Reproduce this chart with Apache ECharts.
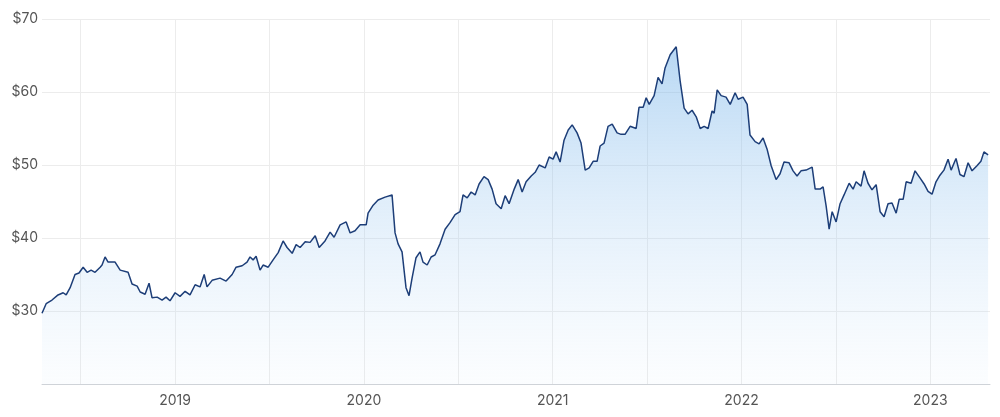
<!DOCTYPE html>
<html lang="en">
<head>
<meta charset="UTF-8" />
<script src="https://cdn.jsdelivr.net/npm/echarts@6/dist/echarts.min.js"></script>
<style>
  html, body { margin: 0; padding: 0; background: #fff; }
  #chart { width: 1000px; height: 417px; }
</style>
</head>
<body>
<div id="chart"></div>
<script>
// dates as decimal years, prices in dollars
const dates = [2018.295,2018.317,2018.348,2018.380,2018.407,2018.423,2018.444,2018.470,2018.491,2018.513,2018.534,2018.555,2018.576,2018.603,2018.613,2018.629,2018.645,2018.682,2018.709,2018.751,2018.772,2018.799,2018.815,2018.841,2018.862,2018.878,2018.905,2018.931,2018.952,2018.973,2019.000,2019.026,2019.053,2019.079,2019.106,2019.132,2019.154,2019.169,2019.196,2019.238,2019.270,2019.302,2019.323,2019.355,2019.381,2019.397,2019.413,2019.429,2019.450,2019.466,2019.493,2019.519,2019.546,2019.572,2019.593,2019.620,2019.641,2019.662,2019.689,2019.715,2019.742,2019.763,2019.794,2019.821,2019.842,2019.874,2019.906,2019.927,2019.953,2019.980,2020.012,2020.022,2020.049,2020.075,2020.112,2020.149,2020.165,2020.181,2020.202,2020.223,2020.239,2020.255,2020.276,2020.297,2020.313,2020.335,2020.356,2020.377,2020.403,2020.430,2020.456,2020.483,2020.509,2020.525,2020.547,2020.568,2020.589,2020.610,2020.636,2020.658,2020.679,2020.700,2020.727,2020.748,2020.769,2020.796,2020.817,2020.838,2020.859,2020.886,2020.907,2020.928,2020.960,2020.981,2021.002,2021.018,2021.039,2021.060,2021.082,2021.103,2021.129,2021.150,2021.172,2021.193,2021.214,2021.235,2021.251,2021.272,2021.293,2021.315,2021.341,2021.362,2021.383,2021.410,2021.442,2021.457,2021.479,2021.495,2021.511,2021.537,2021.558,2021.579,2021.595,2021.622,2021.654,2021.675,2021.696,2021.717,2021.738,2021.760,2021.781,2021.802,2021.823,2021.844,2021.855,2021.871,2021.892,2021.918,2021.940,2021.966,2021.982,2022.008,2022.030,2022.045,2022.072,2022.093,2022.114,2022.135,2022.157,2022.183,2022.204,2022.225,2022.252,2022.273,2022.294,2022.315,2022.342,2022.374,2022.390,2022.416,2022.432,2022.448,2022.464,2022.480,2022.501,2022.522,2022.543,2022.570,2022.591,2022.607,2022.633,2022.649,2022.670,2022.691,2022.713,2022.734,2022.755,2022.776,2022.797,2022.819,2022.835,2022.856,2022.872,2022.898,2022.919,2022.946,2022.967,2022.988,2023.009,2023.030,2023.051,2023.072,2023.094,2023.110,2023.136,2023.157,2023.178,2023.200,2023.221,2023.247,2023.268,2023.284,2023.306];
const prices = [29.7,31,31.5,32.2,32.5,32.2,33.2,35,35.2,36,35.3,35.6,35.3,36,36.3,37.4,36.7,36.7,35.6,35.3,33.7,33.4,32.6,32.3,33.8,31.8,31.9,31.5,31.9,31.4,32.5,32,32.7,32.2,33.6,33.3,35,33.3,34.2,34.5,34.1,35,36,36.2,36.7,37.4,37,37.5,35.6,36.3,36,37,38,39.6,38.7,37.9,39.1,38.7,39.5,39.4,40.3,38.7,39.6,40.8,40.1,41.8,42.2,40.7,41,41.8,41.8,43.4,44.5,45.2,45.6,45.9,40.7,39.2,38.1,33.2,32.1,34.5,37.3,38.1,36.7,36.3,37.4,37.7,39.2,41.2,42.1,43.2,43.6,45.9,45.5,46.3,45.9,47.4,48.4,48,46.7,44.7,44,45.8,44.7,46.7,48,46.3,47.7,48.5,49,50,49.6,51.1,50.8,51.8,50.4,53.4,54.8,55.5,54.4,53,49.3,49.6,50.5,50.5,52.6,53,55.3,55.6,54.4,54.2,54.2,55.3,55,57.9,57.9,59.2,58.3,59.5,62,61.1,63.3,65.1,66.2,61.5,57.8,57,57.5,56.6,55,55.3,55,57.4,57.1,60.3,59.5,59.3,58.3,59.9,59,59.3,58.3,54.1,53.2,52.9,53.7,52.2,49.9,48,48.8,50.4,50.3,49.2,48.5,49.2,49.3,49.7,46.7,46.7,47,44.4,41.2,43.6,42.2,44.7,45.9,47.5,46.7,47.7,47.1,49.2,47.5,46.6,47.3,43.6,42.9,44.7,44.8,43.4,45.3,45.3,47.7,47.5,49.2,48.2,47.4,46.4,46,47.7,48.6,49.3,50.8,49.3,50.9,48.7,48.4,50.3,49.2,49.9,50.5,51.8,51.4];
const gridYears = [2018.5,2019,2019.5,2020,2020.5,2021,2021.5,2022,2022.5,2023];
const labelYears = [2019,2020,2021,2022,2023];

const chart = echarts.init(document.getElementById("chart"));
chart.setOption({
  animation: false,
  grid: { left: 42, right: 10, top: 19, bottom: 33 },
  xAxis: {
    type: "value",
    min: 2018.295,
    max: 2023.316,
    axisLine: { show: true, lineStyle: { color: "#cfd3d8" } },
    axisTick: { show: false, customValues: gridYears },
    axisLabel: {
      customValues: labelYears,
      formatter: (v) => String(Math.round(v)),
      color: "#555",
      fontSize: 14,
      fontFamily: "Inter",
      margin: 10
    },
    splitLine: { show: true, lineStyle: { color: "#ececec" } }
  },
  yAxis: {
    type: "value",
    min: 20,
    max: 70,
    interval: 10,
    axisLine: { show: false },
    axisTick: { show: false },
    axisLabel: {
      formatter: (v) => (v === 20 ? "" : "$" + v),
      color: "#555",
      fontSize: 14,
      fontFamily: "Inter",
      margin: 4
    },
    splitLine: { lineStyle: { color: "#ececec" } }
  },
  series: [{
    type: "line",
    data: dates.map((d, i) => [d, prices[i]]),
    symbol: "none",
    lineStyle: { color: "#1d3e78", width: 1.5 },
    areaStyle: {
      origin: "start",
      color: new echarts.graphic.LinearGradient(0, 0, 0, 1, [
        { offset: 0, color: "rgba(110,175,232,0.7)" },
        { offset: 1, color: "rgba(200,225,248,0.1)" }
      ])
    }
  }]
});
</script>
</body>
</html>
